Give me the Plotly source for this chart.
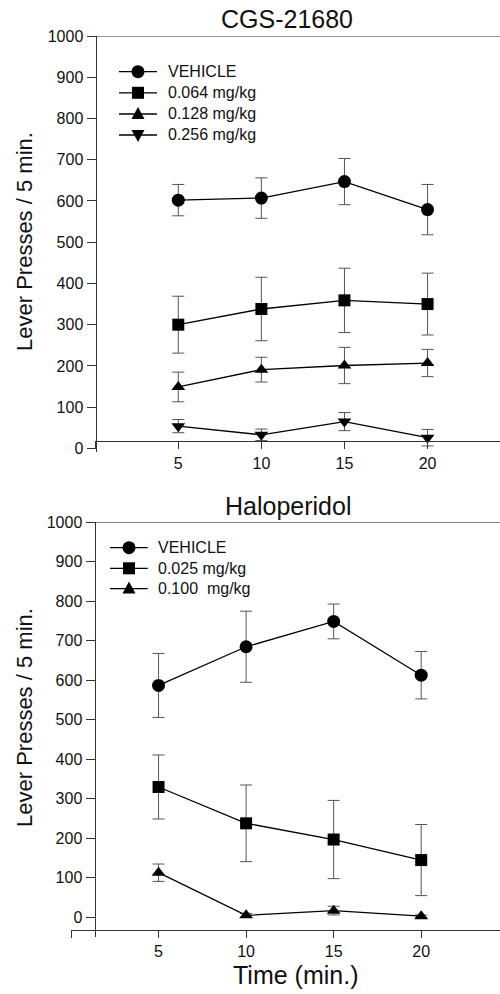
import plotly.graph_objects as go

# ---- data ----
time_min = [5, 10, 15, 20]

cgs_names = ["VEHICLE", "0.064 mg/kg", "0.128 mg/kg", "0.256 mg/kg"]
cgs_vehicle = [602, 607, 647, 579]
cgs_vehicle_err = [38, 49, 56, 61]
cgs_064 = [300, 338, 359, 350]
cgs_064_err = [69, 77, 78, 75]
cgs_128 = [149, 191, 201, 207]
cgs_128_err = [36, 30, 44, 33]
cgs_256 = [54, 33, 65, 26]
cgs_256_err = [16, 14, 22, 20]

hal_names = ["VEHICLE", "0.025 mg/kg", "0.100\u00a0 mg/kg"]
hal_vehicle = [587, 685, 749, 613]
hal_vehicle_err = [81, 90, 44, 60]
hal_025 = [330, 238, 197, 145]
hal_025_err = [81, 97, 99, 90]
hal_100 = [113, 5, 17, 3]
hal_100_err = [22, 5, 11, 3]

y_ticks = [0, 100, 200, 300, 400, 500, 600, 700, 800, 900, 1000]
x_ticks = [0, 5, 10, 15, 20]
x_ticktext = ["", "5", "10", "15", "20"]

FONT = "Liberation Sans, Arial, sans-serif"
TXT = "#111111"
AX = "#333333"
W, H = 500, 994


def px_x(p):
    return p / W


def px_y(p):
    return 1 - p / H


symbols = ["circle", "square", "triangle-up", "triangle-down"]

fig = go.Figure()

cgs_series = [(cgs_vehicle, cgs_vehicle_err), (cgs_064, cgs_064_err),
              (cgs_128, cgs_128_err), (cgs_256, cgs_256_err)]
for i, (vals, err) in enumerate(cgs_series):
    fig.add_trace(go.Scatter(
        x=time_min, y=vals, name=cgs_names[i], mode="lines+markers",
        xaxis="x", yaxis="y", showlegend=False,
        line=dict(color="black", width=1.3),
        marker=dict(symbol=symbols[i], size=12 if i else 13, color="black"),
        error_y=dict(type="data", array=err, visible=True, color="#555555",
                     thickness=1, width=6),
        cliponaxis=False,
    ))

hal_series = [(hal_vehicle, hal_vehicle_err), (hal_025, hal_025_err),
              (hal_100, hal_100_err)]
for i, (vals, err) in enumerate(hal_series):
    fig.add_trace(go.Scatter(
        x=time_min, y=vals, name=hal_names[i], mode="lines+markers",
        xaxis="x2", yaxis="y2", showlegend=False,
        line=dict(color="black", width=1.3),
        marker=dict(symbol=symbols[i], size=12 if i else 13, color="black"),
        error_y=dict(type="data", array=err, visible=True, color="#555555",
                     thickness=1, width=6),
        cliponaxis=False,
    ))

axis_common = dict(showgrid=False, zeroline=False, showline=True,
                   automargin=False,
                   linecolor=AX, linewidth=1, ticks="outside",
                   tickcolor=AX, tickwidth=1,
                   tickfont=dict(family=FONT, size=16, color=TXT))

shapes = [
    dict(type="line", xref="paper", yref="y", x0=px_x(95.5), x1=1,
         y0=1000, y1=1000, line=dict(color=AX, width=1)),
    dict(type="line", xref="paper", yref="y2", x0=px_x(94.5), x1=1,
         y0=1000, y1=1000, line=dict(color=AX, width=1)),
]
annotations = [
    dict(text="CGS-21680", x=px_x(287), y=px_y(19)),
    dict(text="Haloperidol", x=px_x(288), y=px_y(506)),
]
annotations = [dict(a, xref="paper", yref="paper", xanchor="center",
                    yanchor="middle", showarrow=False,
                    font=dict(family=FONT, size=25, color=TXT))
               for a in annotations]
annotations.append(dict(text="Time (min.)", xref="paper", yref="paper",
                        x=px_x(295), y=px_y(975), xanchor="center",
                        yanchor="middle", showarrow=False,
                        font=dict(family=FONT, size=25, color=TXT)))
for yc in (242, 718):
    annotations.append(dict(text="Lever Presses / 5 min.", xref="paper",
                            yref="paper", x=px_x(24), y=px_y(yc),
                            xanchor="center", yanchor="middle",
                            textangle=-90, showarrow=False,
                            font=dict(family=FONT, size=22, color=TXT)))


def legend_marker(sym, cx, cy):
    if sym == "circle":
        r = 6.5
        return dict(type="circle", xref="paper", yref="paper",
                    x0=px_x(cx - r), x1=px_x(cx + r),
                    y0=px_y(cy + r), y1=px_y(cy - r),
                    fillcolor="black", line=dict(width=0))
    if sym == "square":
        r = 6
        return dict(type="rect", xref="paper", yref="paper",
                    x0=px_x(cx - r), x1=px_x(cx + r),
                    y0=px_y(cy + r), y1=px_y(cy - r),
                    fillcolor="black", line=dict(width=0))
    if sym == "triangle-up":
        pts = [(cx - 6.5, cy + 5), (cx + 6.5, cy + 5), (cx, cy - 7)]
    else:
        pts = [(cx - 6.5, cy - 5), (cx + 6.5, cy - 5), (cx, cy + 7)]
    path = "M" + " L".join(f"{px_x(x):.5f},{px_y(y):.5f}" for x, y in pts) + " Z"
    return dict(type="path", xref="paper", yref="paper", path=path,
                fillcolor="black", line=dict(width=0))


def add_legend(names, rows, x0, x1, xm, xt):
    for i, (name, cy) in enumerate(zip(names, rows)):
        shapes.append(dict(type="line", xref="paper", yref="paper",
                           x0=px_x(x0), x1=px_x(x1), y0=px_y(cy), y1=px_y(cy),
                           line=dict(color="black", width=1.3)))
        shapes.append(legend_marker(symbols[i], xm, cy))
        annotations.append(dict(text=name, xref="paper", yref="paper",
                                x=px_x(xt), y=px_y(cy), xanchor="left",
                                yanchor="middle", showarrow=False,
                                font=dict(family=FONT, size=16, color=TXT)))


add_legend(cgs_names, [71.7, 92.8, 114, 135], 119, 157, 138, 166)
add_legend(hal_names, [547.7, 568.3, 588.6], 110, 147.7, 129, 156)

fig.update_layout(
    width=W, height=H,
    margin=dict(l=0, r=0, t=0, b=0, pad=0, autoexpand=False),
    paper_bgcolor="white", plot_bgcolor="white",
    showlegend=False,
    xaxis=dict(domain=[px_x(95.2), 1], range=[0, 24.36], anchor="free",
               position=px_y(441.3), tickvals=x_ticks, ticktext=x_ticktext,
               ticklen=7, **axis_common),
    yaxis=dict(domain=[px_y(451.7), px_y(36)], range=[-8, 1000], anchor="free",
               position=px_x(95.5), tickvals=y_ticks, ticklen=9,
               **axis_common),
    xaxis2=dict(domain=[px_x(71), 1], range=[0, 24.5], anchor="free",
                position=px_y(930), tickvals=x_ticks, ticktext=x_ticktext,
                ticklen=7, **axis_common),
    yaxis2=dict(domain=[px_y(936.7), px_y(522.3)], range=[-49, 1000],
                anchor="free", position=px_x(94.5), tickvals=y_ticks, ticklen=9,
                **axis_common),
    shapes=shapes,
    annotations=annotations,
)

fig.write_html("out.html",
               config={"displayModeBar": False},
               post_script="document.body.style.margin='0';"
                           "document.body.style.overflow='hidden';")
